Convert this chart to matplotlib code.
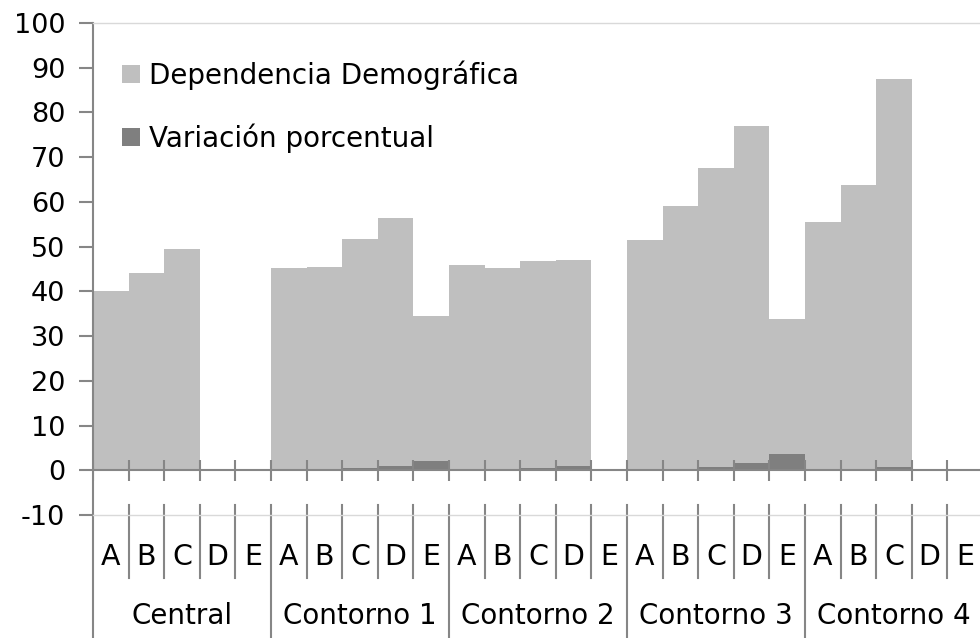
import numpy as np
import matplotlib
matplotlib.use("Agg")
import matplotlib.pyplot as plt
from matplotlib.transforms import blended_transform_factory

# data
groups = ["Central", "Contorno 1", "Contorno 2", "Contorno 3", "Contorno 4"]
letters = ["A", "B", "C", "D", "E"]
dependencia = [40.0, 44.1, 49.4, 0, 0,
               45.3, 45.4, 51.8, 56.4, 34.4,
               45.9, 45.2, 46.8, 47.0, 0,
               51.5, 59.1, 67.6, 76.9, 33.9,
               55.6, 63.8, 87.5, 0, 0]
variacion = [0, 0, 0.3, 0, 0,
             0, 0, 0.4, 1.0, 2.1,
             0, 0, 0.4, 1.0, 0,
             0, 0, 0.7, 1.6, 3.7,
             0, 0, 0.7, 0, 0]

plt.rcParams['font.family'] = ['DejaVu Sans']
plt.rcParams['axes.unicode_minus'] = False
W, H = 980, 638
fig = plt.figure(figsize=(W / 100, H / 100), dpi=100)
left, right, top, bottom = 93, 983, 23, 515
ax = fig.add_axes([left / W, 1 - bottom / H, (right - left) / W, (bottom - top) / H])

x = np.arange(len(dependencia))
ax.bar(x, dependencia, width=1, color='#BFBFBF', linewidth=0,
       label='Dependencia Demográfica', zorder=2)
ax.bar(x, variacion, width=1, color='#7F7F7F', linewidth=0,
       label='Variación porcentual', zorder=3)

ax.set_xlim(-0.5, len(x) - 0.5)
ax.set_ylim(-10, 100)
ax.set_yticks(np.arange(-10, 101, 10))
ax.tick_params(axis='y', labelsize=19.5, length=10, width=1.5, color='#868686', pad=10)
ax.set_xticks([])

for s in ['top', 'bottom']:
    ax.spines[s].set_color('#D9D9D9')
    ax.spines[s].set_linewidth(1)
ax.spines['right'].set_visible(False)
ax.spines['left'].set_color('#868686')
ax.spines['left'].set_linewidth(1.5)

# category axis at zero with cross ticks
ax.axhline(0, color='#868686', lw=1.5, zorder=4)
bounds = np.arange(-0.5, len(x), 1)
ax.vlines(bounds, -2.3, 2.3, color='#868686', lw=1.5, zorder=4)

# multi-level labels below the plot
tr = blended_transform_factory(ax.transData, fig.transFigure)
y_sep_top = 1 - 505 / H
y_sep_bot = 1 - 578 / H
for b in bounds[1:]:
    is_group = abs((b + 0.5) % 5) < 1e-9
    ax.plot([b, b], [y_sep_top, 0 if is_group else y_sep_bot], transform=tr,
            color='#868686', lw=1.5, clip_on=False)
ax.plot([-0.5, -0.5], [1 - bottom / H, 0], transform=tr, color='#868686',
        lw=1.5, clip_on=False)

for i in x:
    ax.text(i, 1 - 557 / H, letters[i % 5], transform=tr, ha='center', va='center',
            fontsize=20.5)
for g, name in enumerate(groups):
    ax.text(g * 5 + 2, 1 - 616 / H, name, transform=tr, ha='center', va='center',
            fontsize=20)

ax.legend(loc='upper left', bbox_to_anchor=(0.033, 0.924), frameon=False, fontsize=20,
          handlelength=0.65, handleheight=0.65, handletextpad=0.3, labelspacing=1.2,
          borderaxespad=0, borderpad=0)

fig.savefig('out.png', dpi=100)
